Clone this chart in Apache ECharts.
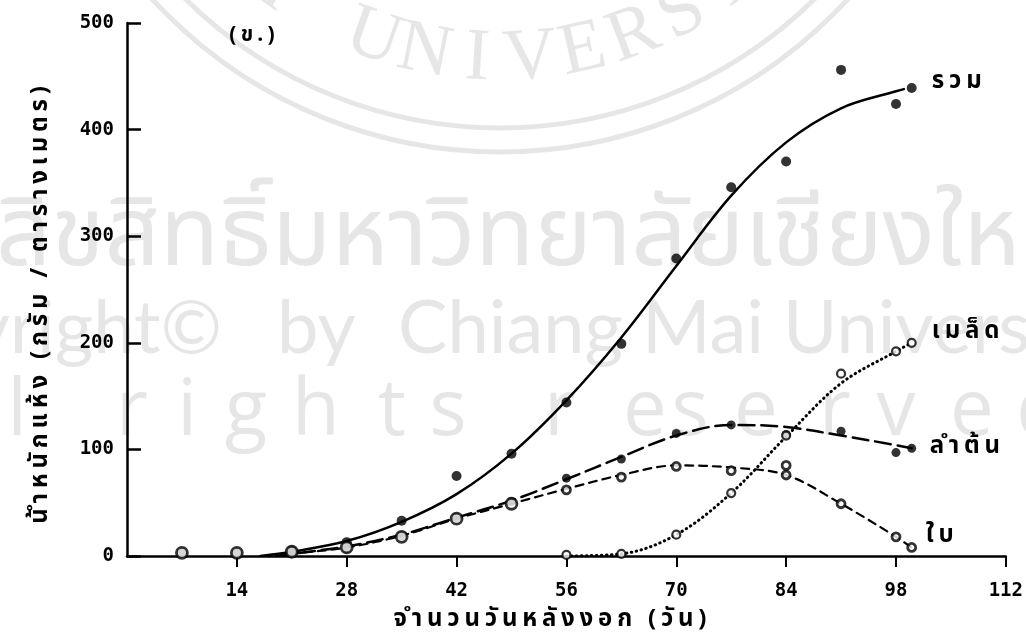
<!DOCTYPE html>
<html>
<head>
<meta charset="utf-8">
<script src="https://cdn.jsdelivr.net/npm/echarts@6/dist/echarts.min.js"></script>
<style>
  html, body { margin: 0; padding: 0; background: #ffffff; }
  #chart { width: 1026px; height: 641px; }
</style>
</head>
<body>
<div id="chart"></div>
<script>
// Dry weight (g/m2) by days after emergence, observed samples
const totalDays = [7, 14, 21, 28, 35, 42, 49, 56, 63, 70, 77, 84, 91, 98, 100];
const totalObs  = [3, 3, 5, 13, 33, 75, 96, 144, 199, 279, 346, 370, 456, 424, 439];
const stemDays  = [21, 28, 35, 42, 49, 56, 63, 70, 77, 84, 91, 98, 100];
const stemObs   = [3, 7, 19, 36, 51, 73, 91, 115, 123, 114, 117, 97, 101];
const leafDays  = [7, 14, 21, 28, 35, 42, 49, 56, 63, 70, 77, 84, 84, 91, 98, 100];
const leafObs   = [3, 3, 4, 8, 18, 35, 49, 62, 74, 84, 80, 85, 76, 49, 18, 8];
const seedDays  = [56, 63, 70, 77, 84, 91, 98, 100];
const seedObs   = [1, 2, 20, 59, 113, 171, 192, 200];

// Fitted growth curves
const totalFitDays = [17, 21, 28, 35, 42, 49, 56, 63, 70, 77, 84, 91, 98, 99];
const totalFit     = [0, 4, 14, 32, 58, 96, 146, 205, 272, 338, 388, 420, 436, 438];
const stemFitDays  = [19, 21, 28, 35, 42, 49, 56, 63, 70, 77, 84, 91, 98, 100];
const stemFit      = [0, 2, 9, 20, 36, 52, 72, 93, 113, 123, 121, 113, 104, 101];
const leafFitDays  = [19, 21, 28, 35, 42, 49, 56, 63, 70, 77, 84, 91, 98, 100];
const leafFit      = [0, 2, 8, 19, 35, 49, 63, 76, 85, 83, 76, 49, 18, 8];
const seedFitDays  = [56, 63, 70, 77, 84, 91, 98, 100];
const seedFit      = [0, 2, 20, 59, 112, 162, 192, 200];

const partNames = ['รวม', 'ลำต้น', 'ใบ', 'เมล็ด'];
const xTitle = 'จำนวนวันหลังงอก (วัน)';
const yTitle = 'น้ำหนักแห้ง (กรัม / ตารางเมตร)';
const panelTag = '(ข.)';

const pairs = (xs, ys) => xs.map((x, i) => [x, ys[i]]);

// Typewriter-style spacing: a thin space between Thai character clusters
const isMark = c => /[\u0E31\u0E34-\u0E3A\u0E47-\u0E4E]/.test(c);
function spaced(s, gap) {
  let out = '';
  for (const ch of s) {
    if (out && !isMark(ch)) out += gap;
    out += ch;
  }
  return out;
}
const THIN = '\u2009';

const INK = '#000000';
const WM = '#e6e6e6';
const monoFont = '"DejaVu Sans Mono", "Liberation Mono", monospace';
const thaiFont = '"Noto Sans Thai", "Noto Sans", "DejaVu Sans", sans-serif';

// Faint background watermark of the source library
function watermark() {
  const els = [];
  const cx = 500, cy = -320;
  [448, 472].forEach(r => els.push({
    type: 'circle', z: -10, silent: true,
    shape: { cx: cx, cy: cy, r: r },
    style: { fill: null, stroke: WM, lineWidth: 5 }
  }));
  const seal = 'CHIANG MAI UNIVERSITY';
  const step = 0.14, rText = 380, base = seal.indexOf('N', 11);
  for (let i = 0; i < seal.length; i++) {
    const phi = (i - base) * step - 0.2;
    els.push({
      type: 'text', z: -10, silent: true,
      x: cx + rText * Math.sin(phi), y: cy + rText * Math.cos(phi),
      rotation: phi,
      style: { text: seal[i], font: '74px "Liberation Serif", serif', fill: WM,
               align: 'center', verticalAlign: 'middle' }
    });
  }
  els.push({
    type: 'text', z: -10, silent: true, x: -4, y: 197,
    style: { text: 'ลิขสิทธิ์มหาวิทยาลัยเชียงใหม่', font: '97px ' + thaiFont, fill: WM,
             align: 'left', verticalAlign: 'top' }
  });
  const latin = '74px Lato, "Open Sans", sans-serif';
  els.push({
    type: 'text', z: -10, silent: true, x: 222, y: 292,
    style: { text: 'Copyright©', font: latin, fill: WM, align: 'right', verticalAlign: 'top' }
  });
  els.push({
    type: 'text', z: -10, silent: true, x: 277, y: 292,
    style: { text: 'by', font: latin, fill: WM, align: 'left', verticalAlign: 'top' }
  });
  els.push({
    type: 'text', z: -10, silent: true, x: 398, y: 292,
    style: { text: 'Chiang Mai University', font: latin, fill: WM, align: 'left', verticalAlign: 'top' }
  });
  const letters = 'llrightsreserved';
  const lettersX = [-30, 17, 132, 187, 246, 316, 392, 448, 560, 645, 690, 756, 835, 896, 972, 1040];
  for (let i = 0; i < letters.length; i++) {
    els.push({
      type: 'text', z: -10, silent: true, x: lettersX[i], y: 374,
      style: { text: letters[i], font: '78px "Open Sans", sans-serif', fill: WM,
               align: 'center', verticalAlign: 'top' }
    });
  }
  return els;
}

const chart = echarts.init(document.getElementById('chart'), null, { renderer: 'canvas' });

const fitLine = (name, data, dash, width, dist, dy) => ({
  name: name, type: 'line', data: data, smooth: 0.35,
  showSymbol: false, symbol: 'none', z: 3, silent: true,
  lineStyle: { color: INK, width: width, type: dash, cap: 'round' },
  endLabel: {
    show: true, formatter: spaced(name, THIN), color: INK, distance: dist, offset: [0, dy],
    fontFamily: thaiFont, fontWeight: 'bold', fontSize: 24
  }
});

const option = {
  backgroundColor: '#ffffff',
  animation: false,
  grid: { left: 127, right: 20, top: 23, bottom: 85, containLabel: false },
  xAxis: {
    type: 'value', min: 0, max: 112, interval: 14,
    axisLine: { show: true, onZero: false, lineStyle: { color: INK, width: 2.5 } },
    axisTick: { show: true, inside: false, length: 11, lineStyle: { color: INK, width: 2 } },
    axisLabel: {
      show: true, showMinLabel: false, margin: 26, color: INK,
      fontFamily: monoFont, fontWeight: 'bold', fontSize: 19
    },
    splitLine: { show: false }
  },
  yAxis: {
    type: 'value', min: 0, max: 500, interval: 100,
    axisLine: { show: true, onZero: false, lineStyle: { color: INK, width: 2.5 } },
    axisTick: { show: true, inside: true, length: 14, lineStyle: { color: INK, width: 2.5 } },
    axisLabel: {
      show: true, margin: 13, color: INK,
      fontFamily: monoFont, fontWeight: 'bold', fontSize: 19
    },
    splitLine: { show: false }
  },
  graphic: watermark().concat([
    {
      type: 'text', x: 252, y: 37, z: 5,
      style: { text: spaced(panelTag, THIN), fill: INK, align: 'center', verticalAlign: 'middle',
               font: 'bold 21px ' + thaiFont }
    },
    {
      type: 'text', x: 550, y: 621, z: 5,
      style: { text: spaced(xTitle, THIN), fill: INK, align: 'center', verticalAlign: 'middle',
               font: 'bold 24px ' + thaiFont }
    },
    {
      type: 'text', x: 42, y: 305, z: 5, rotation: Math.PI / 2,
      style: { text: spaced(yTitle, THIN), fill: INK, align: 'center', verticalAlign: 'middle',
               font: 'bold 24px ' + thaiFont }
    }
  ]),
  series: [
    fitLine(partNames[0], pairs(totalFitDays, totalFit), 'solid', 2.5, 28, -6),
    fitLine(partNames[1], pairs(stemFitDays, stemFit), [16, 7], 2.5, 18, 0),
    fitLine(partNames[2], pairs(leafFitDays, leafFit), [8, 6], 2.2, 14, -10),
    fitLine(partNames[3], pairs(seedFitDays, seedFit), [0.5, 4.5], 3, 20, -10),
    {
      name: partNames[0] + ' obs', type: 'scatter', data: pairs(totalDays, totalObs),
      symbol: 'circle', symbolSize: 10, z: 4, silent: true,
      itemStyle: { color: INK }
    },
    {
      name: partNames[1] + ' obs', type: 'scatter', data: pairs(stemDays, stemObs),
      symbol: 'circle', symbolSize: 9, z: 4, silent: true,
      itemStyle: { color: INK }
    },
    {
      name: partNames[2] + ' obs', type: 'scatter', data: pairs(leafDays, leafObs),
      symbol: 'circle', symbolSize: v => (v[0] <= 49 ? 11 : 8), z: 5, silent: true,
      itemStyle: { color: '#ffffff', borderColor: INK, borderWidth: 2.8 }
    },
    {
      name: partNames[3] + ' obs', type: 'scatter', data: pairs(seedDays, seedObs),
      symbol: 'circle', symbolSize: 8, z: 5, silent: true,
      itemStyle: { color: '#ffffff', borderColor: INK, borderWidth: 2.2 }
    }
  ]
};

chart.setOption(option);
</script>
</body>
</html>
